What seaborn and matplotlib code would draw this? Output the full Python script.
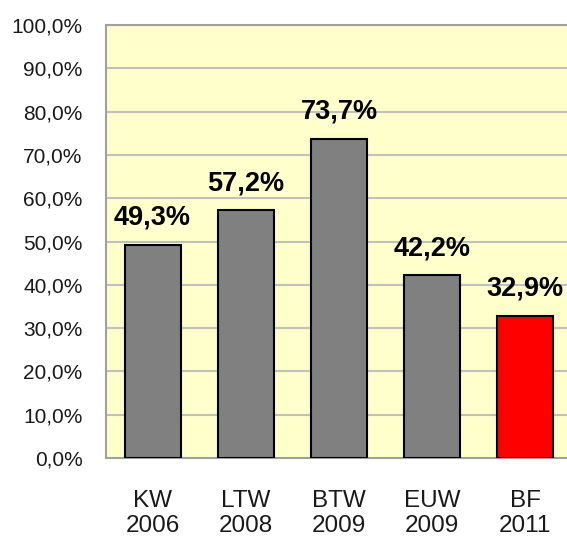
import matplotlib
matplotlib.use("Agg")
import matplotlib.pyplot as plt
import matplotlib.ticker as mtick
import seaborn as sns
import pandas as pd

# ─── Data ─────────────────────────────────────────────────────────
categories = ["KW\n2006", "LTW\n2008", "BTW\n2009", "EUW\n2009", "BF\n2011"]
turnout = [49.3, 57.2, 73.7, 42.2, 32.9]
bar_colors = ["#808080", "#808080", "#808080", "#808080", "#FF0000"]
y_ticks = [0, 10, 20, 30, 40, 50, 60, 70, 80, 90, 100]

df = pd.DataFrame({"wahl": categories, "beteiligung": turnout})

sns.set_theme(style="white")
plt.rcParams["font.family"] = ["Liberation Sans", "DejaVu Sans"]

fig = plt.figure(figsize=(5.67, 5.40), dpi=100)
# plot area runs slightly past the right edge, like the reference
ax = fig.add_axes([106 / 567, 82 / 540, 466 / 567, 433 / 540])
ax.set_facecolor("#FFFFCC")

sns.barplot(data=df, x="wahl", y="beteiligung", hue="wahl", palette=bar_colors,
            legend=False, width=0.6, edgecolor="black", linewidth=1.5,
            saturation=1, ax=ax, zorder=3)

ax.set_ylim(0, 100)
ax.set_xlim(-0.5, len(categories) - 0.5)
ax.set_yticks(y_ticks)
ax.yaxis.set_major_formatter(mtick.FuncFormatter(lambda v, _: f"{v:.1f}%".replace(".", ",")))
ax.grid(axis="y", color="#C0C0C0", linewidth=1.5, zorder=0)
ax.set_axisbelow(True)

# value labels
for i, v in enumerate(turnout):
    ax.text(i, v + 4.6, f"{v:.1f}%".replace(".", ","), ha="center", va="baseline",
            fontsize=19.5, fontweight="bold", color="black", zorder=4)

# spines
for s in ["left", "bottom", "top"]:
    ax.spines[s].set_visible(True)
    ax.spines[s].set_color("#A0A0A0")
    ax.spines[s].set_linewidth(1.5)
ax.spines["right"].set_visible(False)

ax.set_xlabel("")
ax.set_ylabel("")
ax.tick_params(axis="y", length=0, labelsize=15, pad=17, labelcolor="#1a1a1a")
ax.set_yticks(y_ticks)

# x tick marks at slot boundaries, labels centered under bars
ax.set_xticks(range(len(categories)))
ax.set_xticklabels(categories, fontsize=17.5, linespacing=1.2)
ax.tick_params(axis="x", length=0, pad=23, labelcolor="#1a1a1a")
ax.set_xticks([i - 0.5 for i in range(len(categories) + 1)], minor=True)
ax.tick_params(axis="x", which="minor", length=8, width=1.5, color="#A0A0A0", direction="out")

fig.savefig("out.png", dpi=100)
plt.close(fig)
